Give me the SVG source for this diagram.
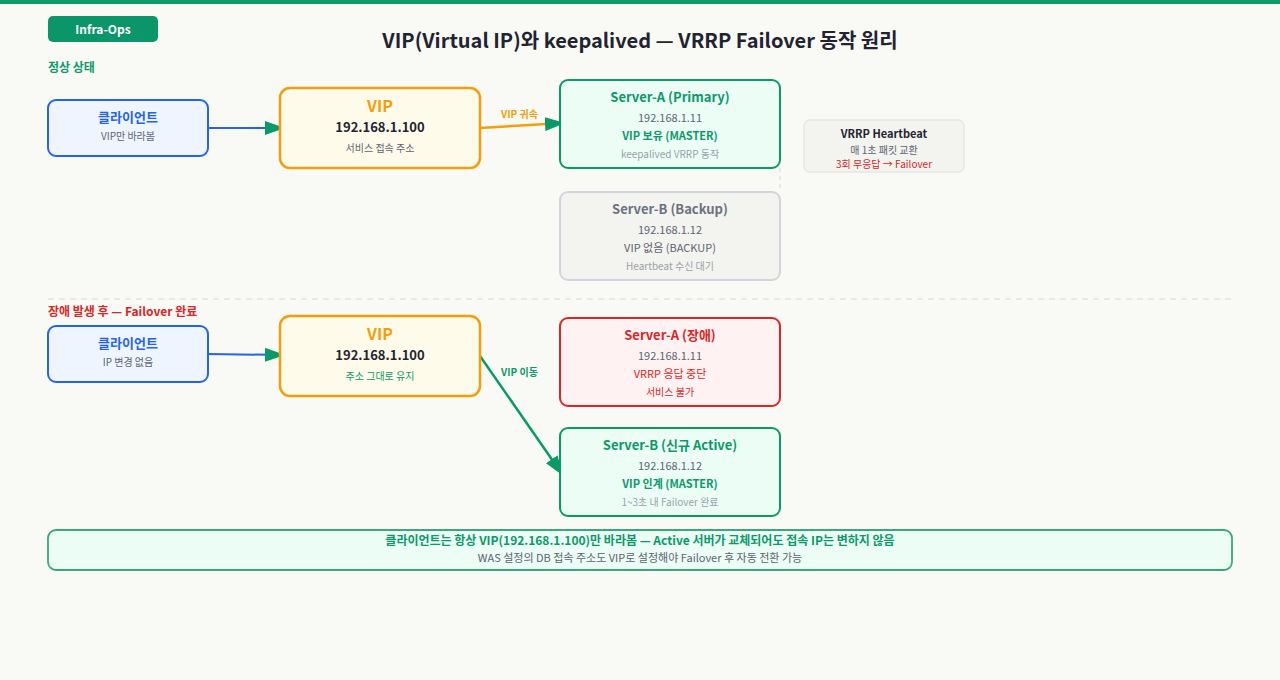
<svg xmlns="http://www.w3.org/2000/svg" width="1280" height="680" viewBox="0 0 1280 680">
<style>
text{font-family:"Noto Sans CJK KR","Noto Sans",sans-serif;text-anchor:middle}
.t{font-size:13px;font-weight:700}
.s{font-size:11px;fill:#5b6472}
.m{font-size:10px;fill:#9aa1ab}
.b{font-size:11px;font-weight:700}
.lbl{font-size:10px;font-weight:700;text-anchor:start}
.client{fill:#eef5ff;stroke:#2563eb;stroke-width:2}
.vip{fill:#fffbea;stroke:#f59e0b;stroke-width:2.5}
.ok{fill:#ecfdf5;stroke:#0a9a6a;stroke-width:2}
.bk{fill:#f3f3ef;stroke:#d1d5db;stroke-width:2}
.fail{fill:#fef2f2;stroke:#dc2626;stroke-width:2}
</style>
<defs>
<marker id="ah" markerUnits="userSpaceOnUse" markerWidth="20" markerHeight="14" refX="18" refY="7" orient="auto">
<path d="M0,0 L20,7 L0,14 Z" fill="#0a9a6a"/>
</marker>
</defs>
<rect width="1280" height="680" fill="#f9f9f5"/>
<rect width="1280" height="4" fill="#0a9a6a"/>
<g id="badge">
<rect x="48" y="16" width="110" height="26" rx="5" fill="#0a9668"/>
<text x="103" y="33.5" style="font-size:12px;font-weight:700;fill:#fff">Infra-Ops</text>
</g>
<text x="640" y="48" style="font-size:20px;font-weight:700;fill:#1f2430">VIP(Virtual IP)와 keepalived — VRRP Failover 동작 원리</text>
<text x="48" y="72" style="font-size:12px;font-weight:700;fill:#0a9a6a;text-anchor:start">정상 상태</text>
<line x1="48" y1="299" x2="1232" y2="299" stroke="#e3e3dd" stroke-width="1.5" stroke-dasharray="6,5"/>
<text x="48" y="316" style="font-size:12px;font-weight:700;fill:#dc2626;text-anchor:start">장애 발생 후 — Failover 완료</text>

<g id="connectors">
<line x1="208" y1="128" x2="283" y2="128" stroke="#2563eb" stroke-width="2" marker-end="url(#ah)"/>
<line x1="480" y1="128" x2="563" y2="123" stroke="#f59e0b" stroke-width="2.5" marker-end="url(#ah)"/>
<text x="501" y="118" class="lbl" fill="#f59e0b">VIP 귀속</text>
<line x1="780" y1="168" x2="780" y2="192" stroke="#e3e3dd" stroke-width="1.5" stroke-dasharray="4,4"/>
<line x1="208" y1="354" x2="283" y2="355" stroke="#2563eb" stroke-width="2" marker-end="url(#ah)"/>
<line x1="480" y1="356" x2="562" y2="474" stroke="#0a9a6a" stroke-width="2.5" marker-end="url(#ah)"/>
<text x="501" y="376" class="lbl" fill="#0a9a6a">VIP 이동</text>
</g>

<g id="client1">
<rect x="48" y="100" width="160" height="56" rx="8" class="client"/>
<text x="128" y="122" class="t" fill="#2563eb">클라이언트</text>
<text x="128" y="140" class="s" style="font-size:10px">VIP만 바라봄</text>
</g>
<g id="vip1">
<rect x="280" y="88" width="200" height="80" rx="10" class="vip"/>
<text x="380" y="112" style="font-size:16px;font-weight:700;fill:#f59e0b">VIP</text>
<text x="380" y="132" class="t" fill="#1f2430">192.168.1.100</text>
<text x="380" y="152" class="s" style="font-size:10px">서비스 접속 주소</text>
</g>
<g id="serverA1">
<rect x="560" y="80" width="220" height="88" rx="8" class="ok"/>
<text x="670" y="102" class="t" fill="#0a9a6a">Server-A (Primary)</text>
<text x="670" y="122" class="s">192.168.1.11</text>
<text x="670" y="140" class="b" fill="#0a9a6a">VIP 보유 (MASTER)</text>
<text x="670" y="158" class="m">keepalived VRRP 동작</text>
</g>
<g id="serverB1">
<rect x="560" y="192" width="220" height="88" rx="8" class="bk"/>
<text x="670" y="214" class="t" fill="#6b7280">Server-B (Backup)</text>
<text x="670" y="234" class="s">192.168.1.12</text>
<text x="670" y="252" class="s">VIP 없음 (BACKUP)</text>
<text x="670" y="270" class="m">Heartbeat 수신 대기</text>
</g>
<g id="heartbeat">
<rect x="804" y="120" width="160" height="52" rx="6" fill="#f3f3ef" stroke="#e5e7e0" stroke-width="1.5"/>
<text x="884" y="138" class="b" fill="#1f2430">VRRP Heartbeat</text>
<text x="884" y="154" class="s" style="font-size:10px">매 1초 패킷 교환</text>
<text x="884" y="168" style="font-size:10px;fill:#dc2626">3회 무응답 → Failover</text>
</g>

<g id="client2">
<rect x="48" y="326" width="160" height="56" rx="8" class="client"/>
<text x="128" y="348" class="t" fill="#2563eb">클라이언트</text>
<text x="128" y="366" class="s" style="font-size:10px">IP 변경 없음</text>
</g>
<g id="vip2">
<rect x="280" y="316" width="200" height="80" rx="10" class="vip"/>
<text x="380" y="340" style="font-size:16px;font-weight:700;fill:#f59e0b">VIP</text>
<text x="380" y="360" class="t" fill="#1f2430">192.168.1.100</text>
<text x="380" y="380" style="font-size:10px;fill:#0a9a6a">주소 그대로 유지</text>
</g>
<g id="serverA2">
<rect x="560" y="318" width="220" height="88" rx="8" class="fail"/>
<text x="670" y="340" class="t" fill="#dc2626">Server-A (장애)</text>
<text x="670" y="360" class="s">192.168.1.11</text>
<text x="670" y="378" style="font-size:11px;fill:#dc2626">VRRP 응답 중단</text>
<text x="670" y="396" style="font-size:10px;fill:#dc2626">서비스 불가</text>
</g>
<g id="serverB2">
<rect x="560" y="428" width="220" height="88" rx="8" class="ok"/>
<text x="670" y="450" class="t" fill="#0a9a6a">Server-B (신규 Active)</text>
<text x="670" y="470" class="s">192.168.1.12</text>
<text x="670" y="488" class="b" fill="#0a9a6a">VIP 인계 (MASTER)</text>
<text x="670" y="506" class="m">1~3초 내 Failover 완료</text>
</g>
<g id="summary">
<rect x="48" y="530" width="1184" height="40" rx="8" fill="#ecfdf5" stroke="#3aa87a" stroke-width="1.8"/>
<text x="640" y="545" style="font-size:12px;font-weight:700;fill:#0a9a6a">클라이언트는 항상 VIP(192.168.1.100)만 바라봄 — Active 서버가 교체되어도 접속 IP는 변하지 않음</text>
<text x="640" y="562" class="s">WAS 설정의 DB 접속 주소도 VIP로 설정해야 Failover 후 자동 전환 가능</text>
</g>
</svg>
